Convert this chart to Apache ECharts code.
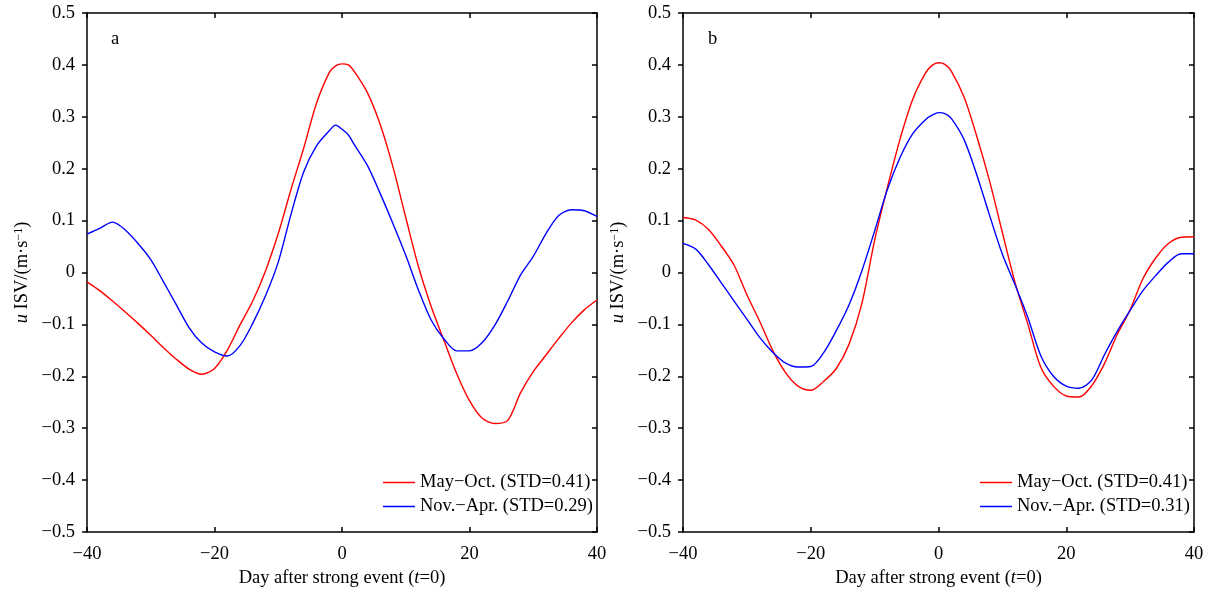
<!DOCTYPE html>
<html>
<head>
<meta charset="utf-8">
<script src="https://cdn.jsdelivr.net/npm/echarts@6/dist/echarts.min.js"></script>
<style>
  html, body { margin: 0; padding: 0; background: #fff; }
  #chart { width: 1211px; height: 589px; }
</style>
</head>
<body>
<div id="chart"></div>
<script>
// days after strong event
var days = [-40, -38, -36, -34, -32, -30, -28, -26, -24, -22, -20, -18, -16, -14, -12, -10, -8, -6, -4, -2, -1,
  0, 1, 2, 4, 6, 8, 10, 12, 14, 16, 18, 20, 22, 24, 26, 28, 30, 32, 34, 36, 38, 40];

// panel a
var redA = [-0.018, -0.035, -0.055, -0.076, -0.098, -0.121, -0.145, -0.167, -0.186, -0.196, -0.185, -0.150, -0.101, -0.055, 0.003, 0.075, 0.160, 0.240, 0.326, 0.385, 0.398,
  0.402, 0.400, 0.386, 0.346, 0.285, 0.203, 0.106, 0.011, -0.066, -0.131, -0.195, -0.247, -0.281, -0.291, -0.285, -0.232, -0.191, -0.159, -0.127, -0.097, -0.072, -0.053];
var blueA = [0.074, 0.085, 0.097, 0.082, 0.056, 0.025, -0.018, -0.062, -0.106, -0.136, -0.153, -0.161, -0.141, -0.098, -0.045, 0.020, 0.112, 0.194, 0.244, 0.273, 0.284,
  0.276, 0.265, 0.245, 0.206, 0.152, 0.094, 0.033, -0.034, -0.092, -0.128, -0.151, -0.151, -0.135, -0.101, -0.055, -0.005, 0.031, 0.075, 0.110, 0.121, 0.119, 0.108];

// panel b
var redB = [0.106, 0.101, 0.083, 0.051, 0.014, -0.043, -0.094, -0.149, -0.192, -0.219, -0.227, -0.210, -0.185, -0.138, -0.060, 0.062, 0.164, 0.258, 0.335, 0.385, 0.399,
  0.404, 0.401, 0.388, 0.338, 0.262, 0.176, 0.077, -0.020, -0.100, -0.182, -0.219, -0.238, -0.240, -0.218, -0.175, -0.119, -0.072, -0.012, 0.028, 0.056, 0.068, 0.069];
var blueB = [0.056, 0.045, 0.015, -0.020, -0.055, -0.090, -0.125, -0.153, -0.174, -0.182, -0.181, -0.155, -0.112, -0.062, 0.003, 0.080, 0.160, 0.222, 0.268, 0.295, 0.303,
  0.308, 0.306, 0.297, 0.256, 0.188, 0.110, 0.035, -0.024, -0.087, -0.160, -0.200, -0.219, -0.223, -0.207, -0.158, -0.113, -0.073, -0.035, -0.006, 0.020, 0.036, 0.036];

var nameRed = 'May\u2212Oct. (STD=0.41)';
var nameBlueA = 'Nov.\u2212Apr. (STD=0.29)';
var nameBlueB = 'Nov.\u2212Apr. (STD=0.31)';

var font = 'Liberation Serif';
var fs = 18.5;

function pairs(vals) {
  return days.map(function (d, i) { return [d, vals[i]]; });
}
function minus(s) { return String(s).replace('-', '\u2212'); }

var dom = document.getElementById('chart');
var myChart = echarts.init(dom, null, { renderer: 'canvas' });

var axisLine = { show: true, onZero: false, lineStyle: { color: '#000', width: 1.5 } };

function xAxes(gi) {
  return [
    {
      type: 'value', gridIndex: gi, position: 'bottom',
      min: -40, max: 40, interval: 20,
      axisLine: axisLine,
      axisTick: { inside: true, length: 5, lineStyle: { color: '#000', width: 1.5 } },
      axisLabel: { margin: 13, fontFamily: font, fontSize: fs, color: '#000', formatter: minus },
      splitLine: { show: false },
      name: '{n|Day after strong event (}{i|t}{n|=0)}',
      nameLocation: 'middle', nameGap: 36,
      nameTextStyle: {
        rich: {
          n: { fontFamily: font, fontSize: fs, color: '#000' },
          i: { fontFamily: font, fontSize: fs, color: '#000', fontStyle: 'italic' }
        }
      }
    },
    {
      type: 'value', gridIndex: gi, position: 'top',
      min: -40, max: 40, interval: 20,
      axisLine: axisLine,
      axisTick: { inside: true, length: 5, lineStyle: { color: '#000', width: 1.5 } },
      axisLabel: { show: false },
      splitLine: { show: false }
    }
  ];
}

function yAxes(gi) {
  return [
    {
      type: 'value', gridIndex: gi, position: 'left',
      min: -0.5, max: 0.5, interval: 0.1,
      axisLine: axisLine,
      axisTick: { inside: false, length: 5, lineStyle: { color: '#000', width: 1.5 } },
      axisLabel: {
        margin: 12, fontFamily: font, fontSize: fs, color: '#000',
        formatter: function (v) {
          var r = Math.round(v * 10) / 10;
          return r === 0 ? '0' : minus(r.toFixed(1));
        }
      },
      splitLine: { show: false },
      name: '{i|u}{n| ISV/(m\u00b7s}{s|\u22121}{n|)}',
      nameLocation: 'middle', nameGap: 55, nameRotate: 90,
      nameTextStyle: {
        rich: {
          n: { fontFamily: font, fontSize: fs, color: '#000' },
          i: { fontFamily: font, fontSize: fs, color: '#000', fontStyle: 'italic' },
          s: { fontFamily: font, fontSize: 12, color: '#000', verticalAlign: 'top' }
        }
      }
    },
    {
      type: 'value', gridIndex: gi, position: 'right',
      min: -0.5, max: 0.5, interval: 0.1,
      axisLine: axisLine,
      axisTick: { inside: true, length: 5, lineStyle: { color: '#000', width: 1.5 } },
      axisLabel: { show: false },
      splitLine: { show: false }
    }
  ];
}

function line(name, vals, color, idx) {
  return {
    name: name, type: 'line', data: pairs(vals),
    xAxisIndex: idx * 2, yAxisIndex: idx * 2,
    symbol: 'none', smooth: 0.3,
    lineStyle: { color: color, width: 1.4 },
    itemStyle: { color: color }
  };
}

var legendText = { fontFamily: font, fontSize: 18.5, color: '#000' };

var option = {
  animation: false,
  backgroundColor: '#fff',
  title: [
    { text: 'a', left: 106, top: 25, textStyle: { fontFamily: font, fontSize: fs, fontWeight: 'normal', color: '#000' } },
    { text: 'b', left: 703, top: 25, textStyle: { fontFamily: font, fontSize: fs, fontWeight: 'normal', color: '#000' } }
  ],
  grid: [
    { left: 87, top: 13, width: 510, height: 519, outerBoundsMode: 'none' },
    { left: 683, top: 13, width: 511, height: 519, outerBoundsMode: 'none' }
  ],
  xAxis: xAxes(0).concat(xAxes(1)),
  yAxis: yAxes(0).concat(yAxes(1)),
  legend: [
    {
      data: [nameRed, nameBlueA], orient: 'vertical', left: 378, top: 468,
      icon: 'rect', itemWidth: 32, itemHeight: 1.5, itemGap: 5, textStyle: legendText
    },
    {
      data: [nameRed, nameBlueB], orient: 'vertical', left: 975, top: 468,
      icon: 'rect', itemWidth: 32, itemHeight: 1.5, itemGap: 5, textStyle: legendText
    }
  ],
  series: [
    line(nameRed, redA, '#ff0000', 0),
    line(nameBlueA, blueA, '#0000ff', 0),
    line(nameRed, redB, '#ff0000', 1),
    line(nameBlueB, blueB, '#0000ff', 1)
  ]
};

if (option && typeof option === 'object') {
  myChart.setOption(option);
}

window.addEventListener('resize', myChart.resize);
</script>
</body>
</html>
